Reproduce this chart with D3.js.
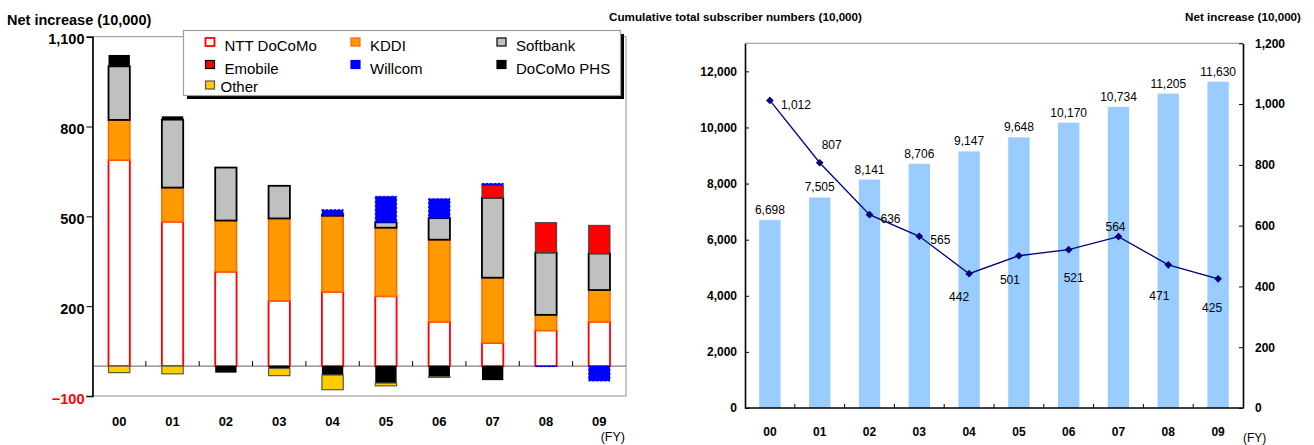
<!DOCTYPE html>
<html lang="en">
<head>
<meta charset="utf-8">
<title>mobile net increase</title>
<script src="https://cdnjs.cloudflare.com/ajax/libs/d3/7.8.5/d3.min.js"></script>
<style>
body{margin:0;background:#fff;font-family:"Liberation Sans",Arial,sans-serif;}
svg{display:block;}
</style>
</head>
<body>
<svg id="chart" width="1314" height="445"></svg>
<script>
// fiscal years shared by both charts
var years = ["00","01","02","03","04","05","06","07","08","09"]

// left chart: net increase by carrier (10,000)
var carriers = ["NTT DoCoMo","KDDI","Softbank","Emobile","Willcom","DoCoMo PHS","Other"]
var docomo   = [688, 482, 315, 218, 248, 233, 148, 77, 119, 148]
var kddi     = [134, 114, 171, 275, 254, 229, 274, 218, 52, 106]
var softbank = [179, 227, 177, 109, 2, 18, 72, 267, 208, 122]
var emobile  = [0, 0, 0, 0, 0, 0, 0, 42, 100, 94]
var willcom  = [0, 0, 0, 0, 18, 87, 65, 6, -2, -50]
var phs      = [38, 11, -22, -8, -30, -57, -36, -47, 0, 0]
var other    = [-22, -26, 0, -24, -49, -9, -2, 0, 0, 0]
var leftTicks = [-100, 200, 500, 800, 1100]

// right chart
var cumulative = [6698, 7505, 8141, 8706, 9147, 9648, 10170, 10734, 11205, 11630]
var netTotal   = [1012, 807, 636, 565, 442, 501, 521, 564, 471, 425]
var cumTicks = [0, 2000, 4000, 6000, 8000, 10000, 12000]
var netTicks = [0, 200, 400, 600, 800, 1000, 1200]
// where each net-increase label sits relative to its point (dx, dy)
var netLabelPos = [[26,4],[12,-18],[21,4],[21,4],[-10,23],[-9,24],[5,28],[-3,-10],[-9,31],[-6,29]]

var svg = d3.select("#chart")
var fmt = d3.format(",")

var styles = {
    "NTT DoCoMo": {fill:"#ffffff", stroke:"#ff0000", sw:1.8},
    "KDDI":       {fill:"#ff9900", stroke:"#ff6600", sw:1.5},
    "Softbank":   {fill:"#c0c0c0", stroke:"#000000", sw:1.8},
    "Emobile":    {fill:"#ff0000", stroke:"#404040", sw:1},
    "Willcom":    {fill:"#0000ff", stroke:"#0000ff", sw:1, dash:"2,2"},
    "DoCoMo PHS": {fill:"#000000", stroke:"none", sw:0},
    "Other":      {fill:"#ffcc00", stroke:"#5a5a3a", sw:1.2}
}

drawLeft()
drawRight()

function drawLeft(){
    var x = d3.scaleBand().domain(years).range([92.5, 626]).paddingInner(0.6).paddingOuter(0.3)
    var y = d3.scaleLinear().domain([-100, 1100]).range([396, 36.7])

    var cols = [docomo, kddi, softbank, emobile, willcom, phs, other]
    var rows = years.map(function(yr, i){
        var r = {year: yr}
        carriers.forEach(function(c, j){ r[c] = cols[j][i] })
        return r
    })
    var stacked = d3.stack().keys(carriers).offset(d3.stackOffsetDiverging)(rows)

    var g = svg.append("g")

    // frame
    g.append("rect")
        .attr("x", x.range()[0]).attr("y", y(1100))
        .attr("width", x.range()[1] - x.range()[0]).attr("height", y(-100) - y(1100))
        .attr("fill", "none").attr("stroke", "#909090")

    g.append("line")
        .attr("x1", x.range()[0]).attr("x2", x.range()[1])
        .attr("y1", y(0)).attr("y2", y(0))
        .attr("stroke", "#808080").attr("stroke-width", 1.2)

    // bars
    stacked.forEach(function(s){
        var st = styles[s.key]
        g.append("g").selectAll("rect")
            .data(s.filter(function(d){ return d[1] != d[0] }))
            .enter().append("rect")
            .attr("x", function(d){ return x(d.data.year) })
            .attr("y", function(d){ return y(Math.max(d[0], d[1])) })
            .attr("width", x.bandwidth())
            .attr("height", function(d){ return Math.abs(y(d[0]) - y(d[1])) })
            .attr("fill", st.fill)
            .attr("stroke", st.stroke)
            .attr("stroke-width", st.sw)
            .attr("stroke-dasharray", st.dash || null)
    })

    // category ticks on the zero line
    g.selectAll(".ctick")
        .data(years.slice(1))
        .enter().append("line")
        .attr("x1", function(d){ return x(d) - x.step()*x.paddingInner()/2 })
        .attr("x2", function(d){ return x(d) - x.step()*x.paddingInner()/2 })
        .attr("y1", y(0)).attr("y2", y(0) - 5)
        .attr("stroke", "#000")

    // y axis
    var ax = g.append("g")
        .attr("transform", "translate(" + x.range()[0] + ",0)")
        .call(d3.axisLeft(y).tickValues(leftTicks).tickSize(6).tickPadding(2).tickFormat(fmt))
    ax.select(".domain").attr("stroke", "#000").attr("stroke-width", 1.6)
    ax.selectAll("text")
        .attr("font-size", 14.5).attr("font-weight", "bold")
        .attr("font-family", "Liberation Sans, Arial, sans-serif")
        .attr("dy", "0.5em")
        .attr("fill", function(d){ return d < 0 ? "#ff0000" : "#000" })

    // x labels
    g.selectAll(".xl")
        .data(years)
        .enter().append("text")
        .attr("x", function(d){ return x(d) + x.bandwidth()/2 })
        .attr("y", 426)
        .attr("text-anchor", "middle")
        .attr("font-size", 13).attr("font-weight", "bold")
        .text(function(d){ return d })
    g.append("text").attr("x", 625).attr("y", 441).attr("text-anchor", "end")
        .attr("font-size", 12.5).text("(FY)")

    g.append("text").attr("x", 7).attr("y", 25)
        .attr("font-size", 14.5).attr("font-weight", "bold")
        .text("Net increase (10,000)")

    // legend
    var lg = g.append("g")
    lg.append("rect").attr("x", 187).attr("y", 34).attr("width", 437).attr("height", 65).attr("fill", "#000")
    lg.append("rect").attr("x", 183.5).attr("y", 30.5).attr("width", 437).attr("height", 65)
        .attr("fill", "#fff").attr("stroke", "#a0a0a0").attr("stroke-width", 1.2)
    var colX = [205.5, 351, 497]
    var rowY = [38, 60.5, 81]
    var items = lg.selectAll(".li")
        .data(carriers)
        .enter().append("g")
        .attr("transform", function(d, i){ return "translate(" + colX[i % 3] + "," + rowY[Math.floor(i/3)] + ")" })
    items.append("rect")
        .attr("width", 9).attr("height", 8)
        .attr("fill", function(d){ return styles[d].fill })
        .attr("stroke", function(d){
            if (d == "DoCoMo PHS") return "#000"
            if (d == "Willcom") return "#0000ff"
            if (d == "Other") return "#555"
            if (d == "Emobile") return "#000"
            return styles[d].stroke
        })
        .attr("stroke-width", function(d){ return d == "NTT DoCoMo" ? 1.8 : 1.2 })
    items.append("text")
        .attr("x", function(d){ return d == "Other" ? 15 : 19 })
        .attr("y", function(d){ return d == "Other" ? 11 : 13 })
        .attr("font-size", 15)
        .text(function(d){ return d })
}

function drawRight(){
    var x = d3.scaleBand().domain(years).range([745, 1243]).paddingInner(0.57).paddingOuter(0.285)
    var yl = d3.scaleLinear().domain([0, 13000]).range([408, 43.3])
    var yr = d3.scaleLinear().domain([0, 1200]).range([408, 43.3])
    var cx = function(d){ return x(d) + x.bandwidth()/2 }

    var g = svg.append("g")

    g.append("line").attr("x1", 745).attr("x2", 1243)
        .attr("y1", yl(13000)).attr("y2", yl(13000))
        .attr("stroke", "#909090")

    g.selectAll(".bar")
        .data(cumulative)
        .enter().append("rect")
        .attr("x", function(d, i){ return x(years[i]) })
        .attr("y", function(d){ return yl(d) })
        .attr("width", x.bandwidth())
        .attr("height", function(d){ return yl(0) - yl(d) })
        .attr("fill", "#99ccff")

    g.selectAll(".blab")
        .data(cumulative)
        .enter().append("text")
        .attr("x", function(d, i){ return cx(years[i]) })
        .attr("y", function(d){ return yl(d) - 6 })
        .attr("text-anchor", "middle")
        .attr("font-size", 12)
        .text(fmt)

    var line = d3.line()
        .x(function(d, i){ return cx(years[i]) })
        .y(function(d){ return yr(d) })
    g.append("path").datum(netTotal)
        .attr("d", line)
        .attr("fill", "none").attr("stroke", "#000080").attr("stroke-width", 1.3)

    var diamond = d3.symbolDiamond2 || d3.symbolDiamond
    g.selectAll(".pt")
        .data(netTotal)
        .enter().append("path")
        .attr("d", d3.symbol().type(diamond).size(38))
        .attr("transform", function(d, i){ return "translate(" + cx(years[i]) + "," + yr(d) + ")" })
        .attr("fill", "#000080")

    g.selectAll(".nlab")
        .data(netTotal)
        .enter().append("text")
        .attr("x", function(d, i){ return cx(years[i]) + netLabelPos[i][0] })
        .attr("y", function(d, i){ return yr(d) + netLabelPos[i][1] })
        .attr("dy", "0.35em")
        .attr("text-anchor", "middle")
        .attr("font-size", 12)
        .text(fmt)

    // axes
    var axl = g.append("g").attr("transform", "translate(745,0)")
        .call(d3.axisLeft(yl).tickValues(cumTicks).tickSizeInner(-4).tickSizeOuter(0).tickPadding(8).tickFormat(fmt))
    var axr = g.append("g").attr("transform", "translate(1243,0)")
        .call(d3.axisRight(yr).tickValues(netTicks).tickSizeInner(-4).tickSizeOuter(0).tickPadding(12).tickFormat(fmt))
    ;[axl, axr].forEach(function(a){
        a.select(".domain").attr("stroke", "#000").attr("stroke-width", 1.6)
        a.selectAll("text").attr("font-size", 12).attr("font-weight", "bold")
            .attr("font-family", "Liberation Sans, Arial, sans-serif")
    })

    g.append("line").attr("x1", 745).attr("x2", 1243)
        .attr("y1", yl(0)).attr("y2", yl(0))
        .attr("stroke", "#000").attr("stroke-width", 1.6)
    g.selectAll(".ctick")
        .data(years.slice(1))
        .enter().append("line")
        .attr("x1", function(d){ return x(d) - x.step()*x.paddingInner()/2 })
        .attr("x2", function(d){ return x(d) - x.step()*x.paddingInner()/2 })
        .attr("y1", yl(0)).attr("y2", yl(0) - 4)
        .attr("stroke", "#000")

    g.selectAll(".xl")
        .data(years)
        .enter().append("text")
        .attr("x", cx)
        .attr("y", 436)
        .attr("text-anchor", "middle")
        .attr("font-size", 12).attr("font-weight", "bold")
        .text(function(d){ return d })
    g.append("text").attr("x", 1243).attr("y", 441.5)
        .attr("font-size", 12).text("(FY)")

    g.append("text").attr("x", 609).attr("y", 21)
        .attr("font-size", 11.5).attr("font-weight", "bold")
        .attr("textLength", 253).attr("lengthAdjust", "spacingAndGlyphs")
        .text("Cumulative total subscriber numbers (10,000)")
    g.append("text").attr("x", 1185).attr("y", 21)
        .attr("font-size", 11.5).attr("font-weight", "bold")
        .attr("textLength", 116).attr("lengthAdjust", "spacingAndGlyphs")
        .text("Net increase (10,000)")
}
</script>
</body>
</html>
